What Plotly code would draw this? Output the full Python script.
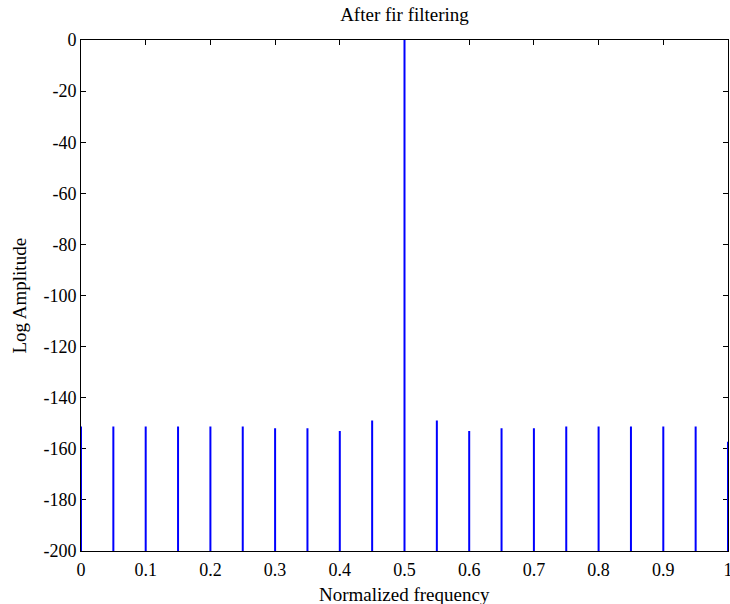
import plotly.graph_objects as go

# Spectrum after FIR filtering: spike frequencies (normalized) and their levels (dB)
spike_freqs = [0.0, 0.05, 0.10, 0.15, 0.20, 0.25, 0.30, 0.35, 0.40, 0.45, 0.50,
               0.55, 0.60, 0.65, 0.70, 0.75, 0.80, 0.85, 0.90, 0.95, 1.0]
spike_levels = [-151.3, -151.3, -151.3, -151.3, -151.3, -151.3, -152.0, -152.0, -153.0, -148.9, 0.0,
                -148.9, -153.0, -152.0, -152.0, -151.3, -151.3, -151.3, -151.3, -151.3, -157.2]
noise_floor = -300.0  # below the visible range

x_ticks = [0, 0.1, 0.2, 0.3, 0.4, 0.5, 0.6, 0.7, 0.8, 0.9, 1]
x_tick_text = ["0", "0.1", "0.2", "0.3", "0.4", "0.5", "0.6", "0.7", "0.8", "0.9", "1"]
y_ticks = [0, -20, -40, -60, -80, -100, -120, -140, -160, -180, -200]
y_tick_text = [str(v) for v in y_ticks]

xs, ys = [], []
for f, lv in zip(spike_freqs, spike_levels):
    xs += [f, f, None]
    ys += [noise_floor, lv, None]

fig = go.Figure()
fig.add_trace(go.Scatter(x=xs, y=ys, mode="lines",
                         line=dict(color="#0000FF", width=2),
                         showlegend=False, hoverinfo="skip"))

FAM = "Liberation Serif, Times New Roman, serif"
tfont = dict(family=FAM, size=18, color="black")
lfont = dict(family=FAM, size=19, color="black")
axis_common = dict(showgrid=False, zeroline=False, showline=True, linecolor="black",
                   linewidth=1, mirror="ticks", ticks="inside", ticklen=5,
                   tickcolor="black", tickwidth=1, tickfont=tfont, automargin=False,
                   ticklabeloverflow="allow", layer="below traces")

W, H = 730, 604
# plot area in page pixels
PL, PR, PT, PB = 81, 728, 40, 551
L, T = PL, PT
R = W - PR
B = H - PB
pw = PR - PL
ph = PB - PT

fig.update_layout(
    width=W, height=H,
    margin=dict(l=L, r=R, t=T, b=B),
    paper_bgcolor="white", plot_bgcolor="white",
    font=tfont,
    hovermode=False,
    title=dict(text="After fir filtering", x=(L + pw / 2) / W, xanchor="center",
               y=1 - 14 / H, yanchor="middle", font=lfont),
    annotations=[
        dict(text="Normalized frequency", xref="paper", yref="paper",
             x=0.5, y=-(594 - PB) / ph, xanchor="center", yanchor="middle",
             showarrow=False, font=lfont),
        dict(text="Log Amplitude", xref="paper", yref="paper",
             x=-(PL - 19) / pw, y=0.5, xanchor="center", yanchor="middle",
             textangle=-90, showarrow=False, font=lfont),
    ],
)
fig.update_xaxes(range=[0, 1], tickvals=x_ticks, ticktext=x_tick_text,
                 ticklabelstandoff=2, **axis_common)
fig.update_yaxes(range=[-200, 0], tickvals=y_ticks, ticktext=y_tick_text, **axis_common)

fig.write_html("out.html", config={"displayModeBar": False},
               post_script="document.body.style.margin='0';")
